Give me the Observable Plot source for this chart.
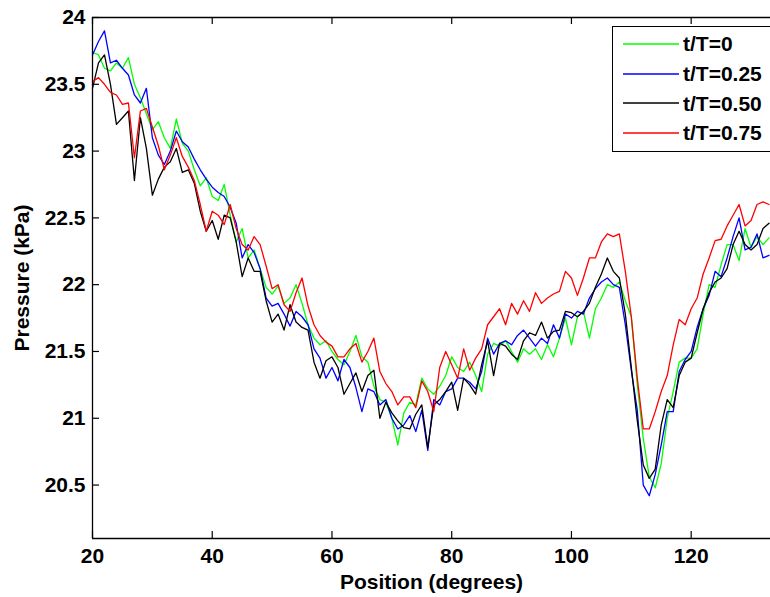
<!DOCTYPE html>
<html>
<head>
<meta charset="utf-8">
<script src="https://cdn.jsdelivr.net/npm/d3@7"></script>
<script src="https://cdn.jsdelivr.net/npm/@observablehq/plot@0.6"></script>
<style>
html, body { margin: 0; padding: 0; background: #fff; }
#wrap { position: relative; width: 770px; height: 597px; overflow: hidden; font-family: "Liberation Sans", Arial, sans-serif; }
#legend { position: absolute; left: 612px; top: 26px; width: 200px; height: 126px; border: 1.3px solid #000; background: #fff; box-sizing: border-box; padding-top: 2px; }
.item { height: 29.7px; display: flex; align-items: center; }
.swatch { margin-left: 10px; width: 56px; height: 8px; display: block; }
.lbl { margin-left: 4px; font-size: 21px; font-weight: bold; color: #000; line-height: 1; }
</style>
</head>
<body>
<div id="wrap"><div id="legend"></div></div>
<script>
// ---- data ----
const positions = [20,21,22,23,24,25,26,27,28,29,30,31,32,33,34,35,36,37,38,39,40,41,42,43,44,45,46,47,48,49,50,51,52,53,54,55,56,57,58,59,60,61,62,63,64,65,66,67,68,69,70,71,72,73,74,75,76,77,78,79,80,81,82,83,84,85,86,87,88,89,90,91,92,93,94,95,96,97,98,99,100,101,102,103,104,105,106,107,108,109,110,111,112,113,114,115,116,117,118,119,120,121,122,123,124,125,126,127,128,129,130,131,132,133];

const pressureT0 = [23.74,23.72,23.62,23.6,23.66,23.62,23.7,23.5,23.4,23.28,23.16,23.22,23.1,23.02,23.24,23.06,23.0,22.86,22.74,22.8,22.66,22.63,22.75,22.52,22.32,22.42,22.2,22.26,22.12,21.98,21.93,21.99,21.86,21.9,22.0,21.86,21.7,21.6,21.55,21.58,21.5,21.44,21.4,21.5,21.62,21.46,21.42,21.24,21.14,21.12,21.0,20.8,21.04,21.12,21.1,21.3,21.22,21.18,21.24,21.32,21.46,21.38,21.35,21.42,21.32,21.2,21.48,21.56,21.54,21.58,21.5,21.42,21.52,21.48,21.52,21.44,21.55,21.46,21.6,21.75,21.55,21.76,21.8,21.6,21.82,21.9,22.0,21.98,22.02,21.88,21.76,21.25,20.85,20.56,20.48,20.66,21.0,21.2,21.42,21.45,21.45,21.52,21.78,22.0,21.98,22.15,22.3,22.3,22.18,22.42,22.28,22.36,22.3,22.35];

const pressureT025 = [23.72,23.82,23.9,23.66,23.68,23.62,23.57,23.42,23.36,23.47,23.1,22.97,22.9,23.0,23.15,23.07,23.03,22.94,22.86,22.79,22.73,22.69,22.66,22.58,22.46,22.2,22.3,22.24,22.12,21.9,21.84,21.86,21.78,21.69,21.8,21.76,21.7,21.52,21.45,21.3,21.38,21.28,21.44,21.38,21.23,21.05,21.22,21.2,21.1,21.14,21.0,20.92,20.95,21.02,20.9,21.06,20.76,21.14,21.1,21.2,21.22,21.3,21.3,21.27,21.22,21.35,21.6,21.48,21.56,21.58,21.55,21.62,21.66,21.6,21.54,21.6,21.56,21.7,21.6,21.78,21.75,21.8,21.78,21.9,21.97,22.02,22.05,22.0,21.98,21.7,21.36,21.06,20.5,20.42,20.58,20.8,21.05,21.05,21.35,21.44,21.5,21.68,21.82,21.92,22.1,22.06,22.2,22.36,22.5,22.26,22.28,22.38,22.2,22.22];

const pressureT050 = [23.47,23.66,23.72,23.5,23.2,23.25,23.3,22.78,23.25,23.02,22.67,22.79,22.88,22.92,23.02,22.84,22.86,22.76,22.55,22.4,22.48,22.34,22.52,22.5,22.32,22.06,22.2,22.1,22.1,21.88,21.72,21.78,21.66,21.85,21.72,21.68,21.66,21.42,21.3,21.43,21.46,21.38,21.18,21.26,21.34,21.2,21.32,21.36,21.0,21.12,21.04,20.98,20.93,20.92,21.03,21.1,20.78,21.1,21.14,21.2,21.27,21.06,21.3,21.25,21.18,21.4,21.58,21.32,21.56,21.54,21.48,21.44,21.58,21.64,21.62,21.72,21.6,21.65,21.66,21.8,21.79,21.76,21.8,21.86,21.98,22.08,22.2,22.1,22.05,21.78,21.38,20.98,20.65,20.55,20.62,20.95,21.14,21.08,21.32,21.42,21.45,21.64,21.82,21.94,22.02,22.05,22.12,22.3,22.4,22.3,22.26,22.3,22.42,22.46];

const pressureT075 = [23.52,23.55,23.5,23.44,23.42,23.35,23.36,22.95,23.3,23.32,23.18,23.04,22.86,22.97,23.1,22.96,22.88,22.78,22.6,22.4,22.55,22.52,22.45,22.6,22.42,22.3,22.26,22.36,22.3,22.14,21.97,22.0,21.85,21.8,21.94,22.05,21.84,21.7,21.62,21.57,21.54,21.46,21.46,21.52,21.56,21.42,21.5,21.6,21.35,21.26,21.2,21.1,21.16,21.16,21.08,21.28,21.2,21.05,21.38,21.5,21.4,21.3,21.52,21.36,21.45,21.52,21.7,21.76,21.82,21.7,21.86,21.78,21.88,21.8,21.94,21.86,21.9,21.93,21.95,22.1,22.05,21.92,22.05,22.2,22.2,22.32,22.38,22.36,22.38,22.1,21.76,21.3,20.92,20.92,21.05,21.2,21.32,21.55,21.74,21.7,21.82,21.9,22.08,22.2,22.33,22.34,22.44,22.52,22.6,22.44,22.48,22.6,22.62,22.6];

const seriesNames = ["t/T=0", "t/T=0.25", "t/T=0.50", "t/T=0.75"];
const seriesColors = ["#00ff00", "#0000ff", "#000000", "#ff0000"];
const seriesValues = [pressureT0, pressureT025, pressureT050, pressureT075];

const xTicks = [20, 40, 60, 80, 100, 120];
const xTickLabels = ["20", "40", "60", "80", "100", "120"];
const yTicks = [20.5, 21, 21.5, 22, 22.5, 23, 23.5, 24];
const yTickLabels = ["20.5", "21", "21.5", "22", "22.5", "23", "23.5", "24"];

const xDomain = [20, 133.25];
const yDomain = [20.1, 24];

// ---- layout ----
const W = 770, H = 597;
const mL = 92, mR = 0, mT = 17, mB = 59;
const innerW = W - mL - mR, innerH = H - mT - mB;
const tickLen = 7;

const rows = [];
seriesNames.forEach((name, s) => {
  positions.forEach((p, i) => rows.push({series: name, x: p, y: seriesValues[s][i]}));
});

const lineMarks = seriesNames.map((name, s) =>
  Plot.line(rows.filter(d => d.series === name), {x: "x", y: "y", stroke: seriesColors[s], strokeWidth: 1.3})
);

const chart = Plot.plot({
  width: W, height: H,
  marginLeft: mL, marginRight: mR, marginTop: mT, marginBottom: mB,
  style: {fontFamily: '"Liberation Sans", Arial, sans-serif', fontSize: "21px", fontWeight: "bold", color: "#000", background: "#fff"},
  x: {domain: xDomain},
  y: {domain: yDomain},
  marks: [
    ...lineMarks,
    // box lines (left, bottom, top)
    Plot.ruleX([xDomain[0]], {stroke: "#000", strokeWidth: 1.3}),
    Plot.ruleY([yDomain[0], yDomain[1]], {stroke: "#000", strokeWidth: 1.3}),
    // inward ticks
    Plot.ruleX(xTicks, {stroke: "#000", strokeWidth: 1.2, insetTop: innerH - tickLen}),
    Plot.ruleX(xTicks, {stroke: "#000", strokeWidth: 1.2, insetBottom: innerH - tickLen}),
    Plot.ruleY(yTicks, {stroke: "#000", strokeWidth: 1.2, insetRight: innerW - tickLen}),
    Plot.axisX({ticks: xTicks, tickSize: 0, tickPadding: 10, tickFormat: (d) => xTickLabels[xTicks.indexOf(d)],
      label: "Position (degrees)", labelAnchor: "center", labelOffset: 50, labelArrow: "none"}),
    Plot.axisY({ticks: yTicks, tickSize: 0, tickPadding: 7, tickFormat: (d) => yTickLabels[yTicks.indexOf(d)],
      label: "Pressure (kPa)", labelAnchor: "center", labelOffset: 78, labelArrow: "none"})
  ]
});

const wrap = document.getElementById("wrap");
wrap.insertBefore(chart, wrap.firstChild);

const svgNS = "http://www.w3.org/2000/svg";
const legend = document.getElementById("legend");
seriesNames.forEach((name, s) => {
  const item = document.createElement("div");
  item.className = "item";
  const sw = document.createElementNS(svgNS, "svg");
  sw.setAttribute("class", "swatch");
  sw.setAttribute("width", "56");
  sw.setAttribute("height", "8");
  const ln = document.createElementNS(svgNS, "line");
  ln.setAttribute("x1", "0"); ln.setAttribute("x2", "56");
  ln.setAttribute("y1", "4"); ln.setAttribute("y2", "4");
  ln.setAttribute("stroke", seriesColors[s]);
  ln.setAttribute("stroke-width", "1.6");
  sw.appendChild(ln);
  const lb = document.createElement("span");
  lb.className = "lbl";
  lb.textContent = name;
  item.appendChild(sw);
  item.appendChild(lb);
  legend.appendChild(item);
});
</script>
</body>
</html>
